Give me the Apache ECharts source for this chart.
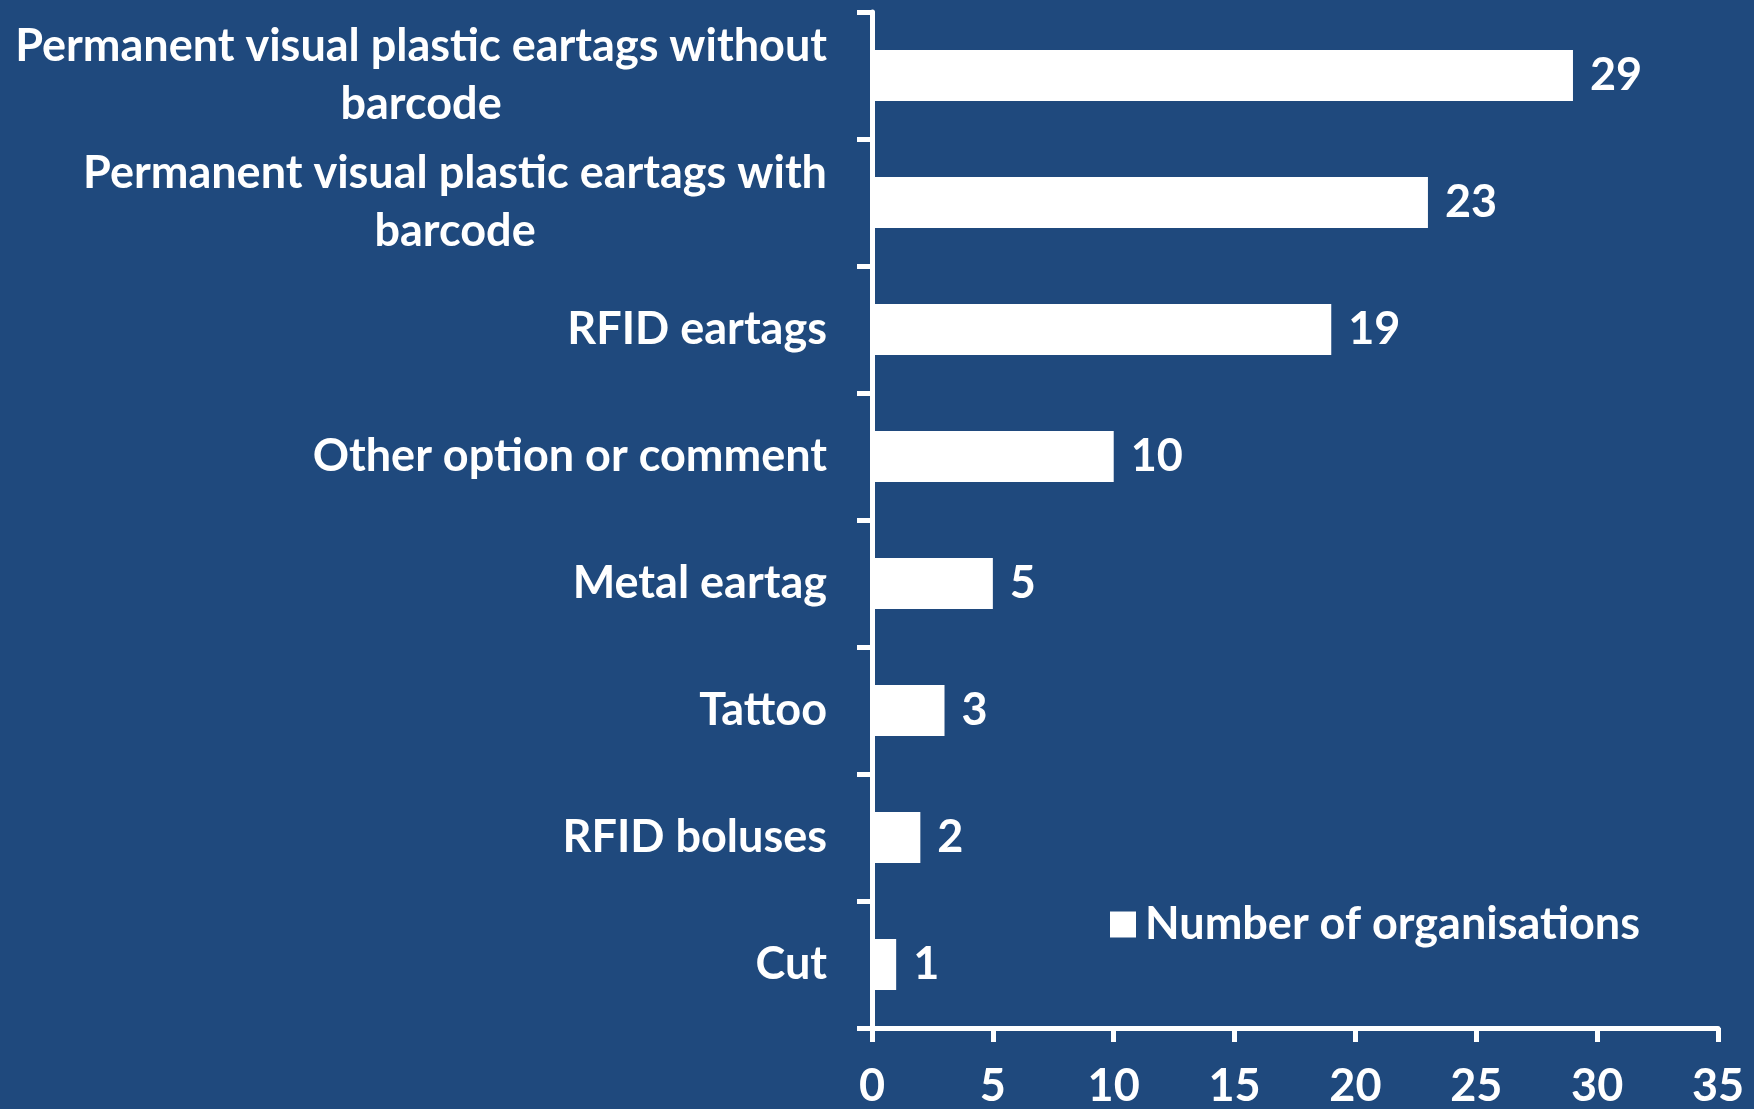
<!DOCTYPE html>
<html>
<head>
<meta charset="utf-8">
<script src="https://cdn.jsdelivr.net/npm/echarts@6/dist/echarts.min.js"></script>
<style>
html,body{margin:0;padding:0;background:#1F497D;}
#chart{width:1754px;height:1109px;}
</style>
</head>
<body>
<div id="chart"></div>
<script>
const categories = [
  "Permanent visual plastic eartags without barcode",
  "Permanent visual plastic eartags with barcode",
  "RFID eartags",
  "Other option or comment",
  "Metal eartag",
  "Tattoo",
  "RFID boluses",
  "Cut"
];
const values = [29, 23, 19, 10, 5, 3, 2, 1];
const seriesName = "Number of organisations";
const xMin = 0, xMax = 35, xStep = 5;

const FONT = 'Lato';
const FS = 45;
const chart = echarts.init(document.getElementById('chart'));
chart.setOption({
  backgroundColor: '#1F497D',
  animation: false,
  grid: { left: 872, right: 36, top: 12, bottom: 80, containLabel: false },
  legend: {
    data: [seriesName],
    left: 1105, top: 897,
    itemWidth: 26, itemHeight: 26, itemGap: 10,
    icon: 'rect',
    textStyle: { color: '#fff', fontSize: FS, fontWeight: 'bold', fontFamily: FONT, padding: [0,0,0,4] }
  },
  xAxis: {
    type: 'value', min: xMin, max: xMax, interval: xStep,
    axisLine: { show: true, lineStyle: { color: '#fff', width: 5 } },
    axisTick: { show: true, length: 14, lineStyle: { color: '#fff', width: 5 } },
    axisLabel: { color: '#fff', fontSize: FS, fontWeight: 'bold', fontFamily: FONT, margin: 36 },
    splitLine: { show: false }
  },
  yAxis: {
    type: 'category', data: categories, inverse: true,
    axisLine: { show: true, lineStyle: { color: '#fff', width: 5 } },
    axisTick: { show: true, length: 15, lineStyle: { color: '#fff', width: 5 } },
    axisLabel: {
      color: '#fff', fontSize: FS, fontWeight: 'bold', fontFamily: FONT, margin: 45,
      lineHeight: 58,
      formatter: function (v) {
        if (v.length > 30) {
          const i = v.lastIndexOf(' ');
          return '{c|' + v.slice(0, i) + '}\n{c|' + v.slice(i + 1) + '}';
        }
        return '{c|' + v + '}';
      },
      rich: { c: { align: 'center', color: '#fff', fontSize: FS, fontWeight: 'bold', fontFamily: FONT, lineHeight: 58 } }
    }
  },
  series: [{
    name: seriesName, type: 'bar', data: values,
    barCategoryGap: '60%',
    itemStyle: { color: '#fff' },
    label: { show: true, position: 'right', distance: 17, color: '#fff', fontSize: FS, fontWeight: 'bold', fontFamily: FONT }
  }]
});
</script>
</body>
</html>
